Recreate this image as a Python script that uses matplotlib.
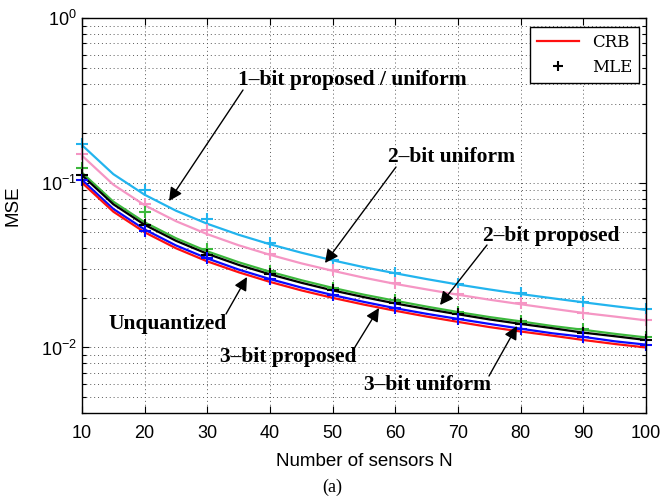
import numpy as np
import matplotlib
matplotlib.use('Agg')
import matplotlib.pyplot as plt
from matplotlib.ticker import LogLocator, NullFormatter, FixedLocator

plt.rcParams['font.family'] = ['Liberation Sans', 'DejaVu Sans']

# CRB curves, N = 10, 15, ..., 100
n_crb = [10, 15, 20, 25, 30, 35, 40, 45, 50, 55, 60, 65, 70, 75, 80, 85, 90, 95, 100]
crb_1bit = [0.169, 0.1127, 0.0845, 0.0676, 0.0563, 0.0483, 0.0423, 0.0376, 0.0338, 0.0307,
            0.0282, 0.0260, 0.0241, 0.0225, 0.0211, 0.0199, 0.0188, 0.0178, 0.0169]
crb_2bit_uni = [0.146, 0.0973, 0.0730, 0.0584, 0.0487, 0.0417, 0.0365, 0.0324, 0.0292, 0.0265,
                0.0243, 0.0225, 0.0209, 0.0195, 0.0183, 0.0172, 0.0162, 0.0154, 0.0146]
crb_2bit_prop = [0.115, 0.0767, 0.0575, 0.0460, 0.0383, 0.0329, 0.0288, 0.0256, 0.0230, 0.0209,
                 0.0192, 0.0177, 0.0164, 0.0153, 0.0144, 0.0135, 0.0128, 0.0121, 0.0115]
crb_3bit_uni = [0.111, 0.0740, 0.0555, 0.0444, 0.0370, 0.0317, 0.0278, 0.0247, 0.0222, 0.0202,
                0.0185, 0.0171, 0.0159, 0.0148, 0.0139, 0.0131, 0.0123, 0.0117, 0.0111]
crb_3bit_prop = [0.104, 0.0693, 0.0520, 0.0416, 0.0347, 0.0297, 0.0260, 0.0231, 0.0208, 0.0189,
                 0.0173, 0.0160, 0.0149, 0.0139, 0.0130, 0.0122, 0.0116, 0.0109, 0.0104]
crb_unq = [0.100, 0.0667, 0.0500, 0.0400, 0.0333, 0.0286, 0.0250, 0.0222, 0.0200, 0.0182,
           0.0167, 0.0154, 0.0143, 0.0133, 0.0125, 0.0118, 0.0111, 0.0105, 0.0100]

# MLE simulation points, N = 10, 20, ..., 100
n_mle = [10, 20, 30, 40, 50, 60, 70, 80, 90, 100]
mle_1bit = [0.171, 0.090, 0.060, 0.0430, 0.0338, 0.0285, 0.0244, 0.0213, 0.0189, 0.0170]
mle_2bit_uni = [0.150, 0.0746, 0.0519, 0.0370, 0.0295, 0.0245, 0.0210, 0.0185, 0.0163, 0.0146]
mle_2bit_prop = [0.122, 0.0668, 0.0395, 0.0292, 0.0230, 0.0193, 0.0165, 0.0145, 0.0129, 0.0116]
mle_3bit_uni = [0.112, 0.0550, 0.0366, 0.0278, 0.0222, 0.0185, 0.0159, 0.0139, 0.0123, 0.0111]
mle_3bit_prop = [0.104, 0.0510, 0.0350, 0.0262, 0.0209, 0.0174, 0.0149, 0.0130, 0.0116, 0.0104]

c_cyan = '#22b4ee'
c_pink = '#f596c4'
c_green = '#3cb83c'
c_black = '#000000'
c_blue = '#0a0aff'
c_red = '#ff1010'

fig = plt.figure(figsize=(6.63, 4.99), dpi=100)
ax = fig.add_axes([0.1237, 0.1723, 0.8507, 0.7917])

lw = 1.6
ax.plot(n_crb, crb_1bit, color=c_cyan, lw=lw)
ax.plot(n_crb, crb_2bit_uni, color=c_pink, lw=lw)
ax.plot(n_crb, crb_2bit_prop, color=c_green, lw=lw)
ax.plot(n_crb, crb_3bit_uni, color=c_black, lw=lw)
ax.plot(n_crb, crb_3bit_prop, color=c_blue, lw=lw)
ax.plot(n_crb, crb_unq, color=c_red, lw=lw)

mk = dict(marker='+', linestyle='none', markersize=8, markeredgewidth=1.5, clip_on=False)
ax.plot(n_mle, mle_1bit, color=c_cyan, **mk)
ax.plot(n_mle, mle_2bit_uni, color=c_pink, **mk)
ax.plot(n_mle, mle_2bit_prop, color=c_green, **mk)
ax.plot(n_mle, mle_3bit_uni, color=c_black, **mk)
ax.plot(n_mle, mle_3bit_prop, color=c_blue, **mk)

ax.set_yscale('log')
ax.set_xlim(10, 100)
ax.set_ylim(4e-3, 1)
ax.set_xticks(range(10, 101, 10))
ax.yaxis.set_major_locator(FixedLocator([1e-2, 1e-1, 1]))
ax.yaxis.set_minor_locator(LogLocator(base=10, subs=np.arange(2, 10)))
ax.yaxis.set_minor_formatter(NullFormatter())

ax.tick_params(which='both', direction='in', top=True, right=True, labelsize=13)
ax.tick_params(which='major', length=5, width=0.8)
ax.tick_params(which='minor', length=3, width=0.8)
ax.tick_params(axis='x', pad=8.5)
for s in ax.spines.values():
    s.set_linewidth(1.0)

ax.grid(True, which='major', axis='both', linestyle=(0, (1, 3)), color='0.35', lw=0.7)
ax.grid(True, which='minor', axis='y', linestyle=(0, (1, 3)), color='0.35', lw=0.7)

ax.set_xlabel('Number of sensors N', fontsize=13.5, labelpad=8)
ax.set_ylabel('MSE', fontsize=13.5)
ax.yaxis.set_label_coords(-0.107, 0.525)

# legend
h1, = ax.plot([], [], color=c_red, lw=1.6)
h2, = ax.plot([], [], color='k', marker='+', linestyle='none', markersize=7, markeredgewidth=1.5)
leg = ax.legend([h1, h2], ['CRB', 'MLE'], loc='upper right', fancybox=False,
                framealpha=1, edgecolor='k', handlelength=2.5, borderpad=0.4, borderaxespad=0,
                bbox_to_anchor=(0.9876, 0.977), prop={'family': 'DejaVu Serif', 'size': 12})
leg.get_frame().set_linewidth(1.0)

# annotations (pixel coordinates of the figure, y from top)
W, H = 663, 499
def pix(x, y):
    return (x / W, 1 - y / H)

ann_font = dict(family='Liberation Serif', weight='bold', size=15.5)
arrow = dict(arrowstyle='-|>', color='k', lw=1.0, mutation_scale=20, shrinkA=0, shrinkB=0)
notes = [
    ('1\u2013bit proposed / uniform', (352, 80), (243, 90), (169, 201)),
    ('2\u2013bit uniform', (452, 157), (396, 167), (325, 263)),
    ('2\u2013bit proposed', (551, 236), (487, 245), (440, 305)),
    ('Unquantized', (168, 324), (226, 314), (247, 277)),
    ('3\u2013bit proposed', (288, 357), (355, 347), (379, 308)),
    ('3\u2013bit uniform', (427, 385), (489, 376), (517, 326)),
]
for txt, tpos, start, tip in notes:
    fig.text(*pix(*tpos), txt, ha='center', va='center', **ann_font)
    ax.annotate('', xy=pix(*tip), xycoords='figure fraction',
                xytext=pix(*start), textcoords='figure fraction', arrowprops=arrow)

fig.text(*pix(332, 487), '(a)', ha='center', va='center', family='Liberation Serif', size=13)

fig.savefig('out.png', dpi=100)
